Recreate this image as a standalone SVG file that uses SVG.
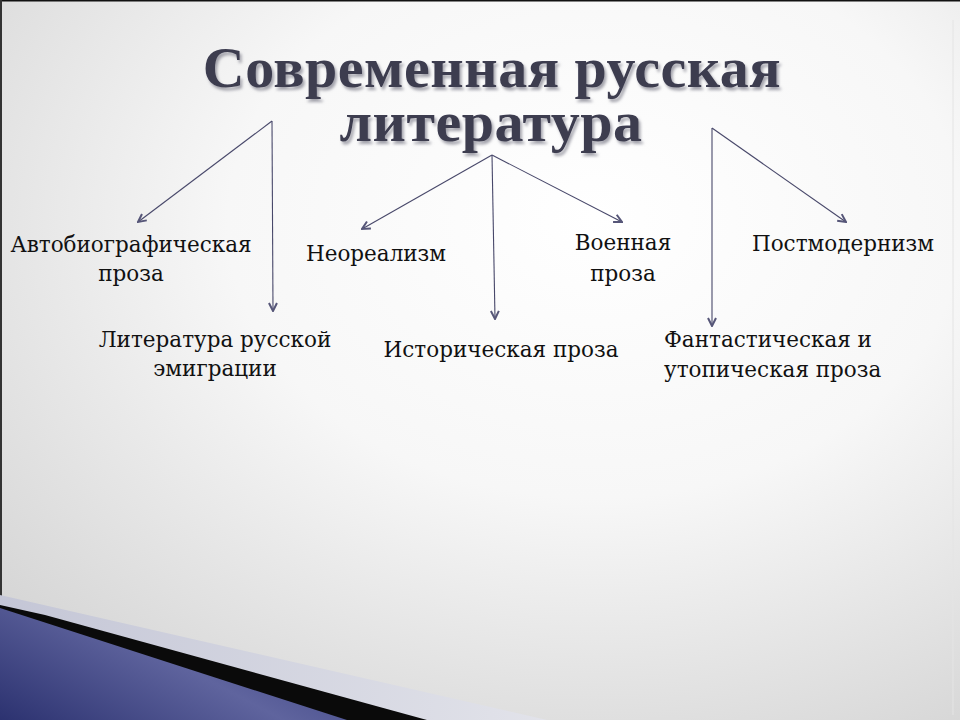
<svg xmlns="http://www.w3.org/2000/svg" width="960" height="720" viewBox="0 0 960 720">
<defs>
<radialGradient id="bg" cx="0.62" cy="0.32" r="0.85" fx="0.62" fy="0.3">
<stop offset="0" stop-color="#ffffff"/>
<stop offset="0.45" stop-color="#f7f7f7"/>
<stop offset="1" stop-color="#d2d2d2"/>
</radialGradient>
<linearGradient id="blue" x1="0" y1="1" x2="1" y2="0.4">
<stop offset="0" stop-color="#2c3270"/>
<stop offset="0.6" stop-color="#5f649e"/>
<stop offset="1" stop-color="#3f4585"/>
</linearGradient>
<linearGradient id="band" x1="0" y1="0" x2="1" y2="0">
<stop offset="0" stop-color="#c4c6d6"/>
<stop offset="1" stop-color="#e2e3ea"/>
</linearGradient>
<filter id="sh" x="-5%" y="-20%" width="110%" height="150%">
<feGaussianBlur in="SourceAlpha" stdDeviation="1.5" result="b"/>
<feOffset in="b" dx="2" dy="2.5" result="o"/>
<feFlood flood-color="#7d7d8a" flood-opacity="0.7"/>
<feComposite in2="o" operator="in" result="s"/>
<feMerge><feMergeNode in="s"/><feMergeNode in="SourceGraphic"/></feMerge>
</filter>
<marker id="ah" viewBox="0 0 10 10" refX="9" refY="5" markerWidth="10" markerHeight="10" markerUnits="userSpaceOnUse" orient="auto">
<path d="M1,1 L9,5 L1,9" fill="none" stroke="#565678" stroke-width="2"/>
</marker>
<style>
.lbl{font-family:"DejaVu Serif","Liberation Serif",serif;font-size:21.5px;fill:#111}
.ttl{font-family:"Liberation Serif","DejaVu Serif",serif;font-weight:bold;font-size:58px;fill:#3c3c50;text-anchor:middle;letter-spacing:0.5px;filter:url(#sh)}
.c{fill:none;stroke:#48486a;stroke-width:1.1;marker-end:url(#ah)}
</style>
</defs>
<rect width="960" height="720" fill="url(#bg)"/>
<line x1="0" y1="0.8" x2="960" y2="0.8" stroke="#111" stroke-width="1.6"/>
<line x1="1" y1="0" x2="1" y2="608" stroke="#333" stroke-width="2"/>
<line x1="953" y1="20" x2="953" y2="715" stroke="#e4e4e4" stroke-width="1"/>
<g id="decor">
<polygon points="0,595 547,720 0,720" fill="url(#band)"/>
<polygon points="45,615 427,720 0,720 0,605" fill="#0a0a0a"/>
<polygon points="0,608 347,720 0,720" fill="url(#blue)"/>
</g>
<g id="title">
<text class="ttl" x="492" y="87">Современная русская</text>
<text class="ttl" x="491" y="141">литература</text>
</g>
<g id="connectors">
<path class="c" d="M272,121 L138,222"/>
<path class="c" d="M272,121 L273,311"/>
<path class="c" d="M492,155 L362,229"/>
<path class="c" d="M492,155 L495,319"/>
<path class="c" d="M492,155 L622,222"/>
<path class="c" d="M712,128 L712,326"/>
<path class="c" d="M712,128 L846,222"/>
</g>
<g id="n-autobio"><text class="lbl" text-anchor="middle" x="131" y="252">Автобиографическая</text><text class="lbl" text-anchor="middle" x="131" y="281">проза</text></g>
<g id="n-emigr"><text class="lbl" text-anchor="middle" x="215" y="347">Литература русской</text><text class="lbl" text-anchor="middle" x="215" y="376">эмиграции</text></g>
<g id="n-neoreal"><text class="lbl" text-anchor="middle" x="376" y="261">Неореализм</text></g>
<g id="n-hist"><text class="lbl" text-anchor="middle" x="501" y="357">Историческая проза</text></g>
<g id="n-war"><text class="lbl" text-anchor="middle" x="623" y="250">Военная</text><text class="lbl" text-anchor="middle" x="623" y="281">проза</text></g>
<g id="n-postmod"><text class="lbl" text-anchor="middle" x="843" y="251">Постмодернизм</text></g>
<g id="n-fant"><text class="lbl" x="664" y="347">Фантастическая и</text><text class="lbl" x="664" y="377">утопическая проза</text></g>
</svg>
